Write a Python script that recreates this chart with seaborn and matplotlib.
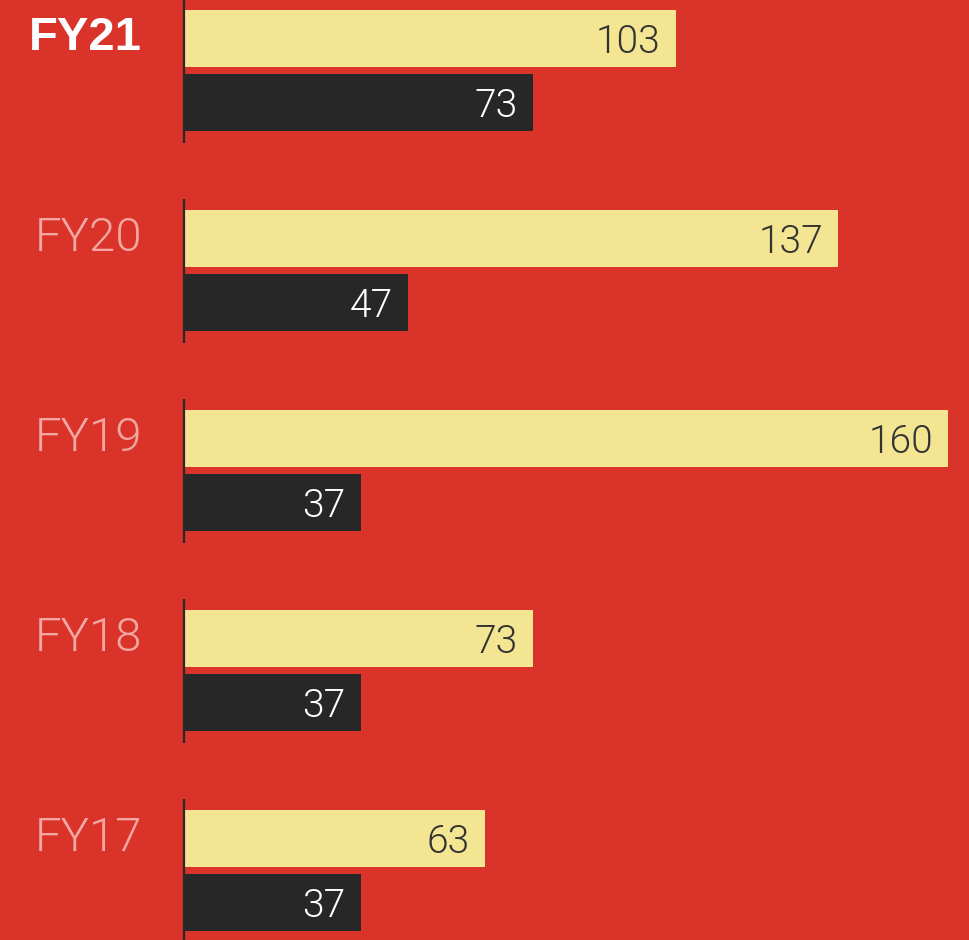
import matplotlib
matplotlib.use("Agg")
import matplotlib.pyplot as plt
from matplotlib import font_manager
import seaborn as sns
import pandas as pd

# ---- data ----
years = ["FY21", "FY20", "FY19", "FY18", "FY17"]
series_names = ["Series A", "Series B"]
values_a = [103, 137, 160, 73, 63]
values_b = [73, 47, 37, 37, 37]

# ---- styles ----
BG = "#D9332A"
YELLOW = "#F3E592"
DARK = "#282728"
PINK = "#F3A7A2"
WHITE = "#FFFFFF"


def pick_light_family():
    prefs = ["Roboto", "Lato", "Open Sans", "Inter", "Noto Sans"]
    for fam in prefs:
        for f in font_manager.fontManager.ttflist:
            if f.name == fam and isinstance(f.weight, int) and f.weight <= 300 and f.style == "normal":
                return fam, f.weight
    return "Liberation Sans", "normal"


LIGHT_FAM, LIGHT_W = pick_light_family()

df = pd.DataFrame({
    "year": years * 2,
    "value": values_a + values_b,
    "series": [series_names[0]] * len(years) + [series_names[1]] * len(years),
})

sns.set_theme(style="white")
plt.rcParams["font.family"] = ["Liberation Sans", "DejaVu Sans"]

W, H = 969, 940
fig = plt.figure(figsize=(W / 100, H / 100), dpi=100)
fig.patch.set_facecolor(BG)
left_px = 184
ax = fig.add_axes([left_px / W, 0, (W - left_px) / W, 1])
ax.set_facecolor(BG)

sns.barplot(data=df, y="year", x="value", hue="series", orient="h",
            order=years, hue_order=series_names,
            palette=[YELLOW, DARK], saturation=1, width=0.64, gap=0.11,
            linewidth=0, edgecolor="none",
            legend=False, ax=ax)

px_per_unit = (948 - 184) / 160
ax.set_xlim(0, (W - left_px) / px_per_unit)
ax.set_ylim((H - 70.5) / 200, -70.5 / 200)

# per-group baseline segments
for i in range(len(years)):
    ax.vlines(0, i - 0.36, i + 0.36, color=DARK, lw=1.6, zorder=5, clip_on=False)

# value labels
label_colors = ["#333333", WHITE]
for cont, vals, col in zip(ax.containers, [values_a, values_b], label_colors):
    for patch, v in zip(cont.patches, vals):
        y = patch.get_y() + patch.get_height() / 2
        ax.annotate(str(v), xy=(patch.get_width(), y), xytext=(-15, 0),
                    textcoords="offset pixels", ha="right", va="center_baseline",
                    fontsize=28, color=col, fontweight=LIGHT_W,
                    family=[LIGHT_FAM, "DejaVu Sans"])

# y labels
ax.set_yticks([i - 0.185 for i in range(len(years))], years)
ax.tick_params(axis="y", length=0, pad=30, labelsize=34)
for i, lbl in enumerate(ax.get_yticklabels()):
    if i == 0:
        lbl.set_color(WHITE)
        lbl.set_fontweight("bold")
    else:
        lbl.set_color(PINK)
        lbl.set_family([LIGHT_FAM, "DejaVu Sans"])
        lbl.set_fontweight(LIGHT_W)
ax.set_xticks([])
ax.set_xlabel("")
ax.set_ylabel("")
for s in ax.spines.values():
    s.set_visible(False)

fig.savefig("out.png", dpi=100, facecolor=BG)
